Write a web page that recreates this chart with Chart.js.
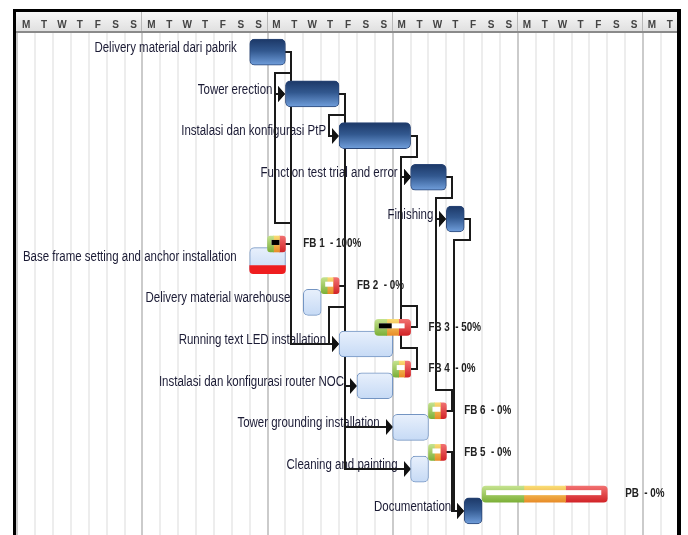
<!DOCTYPE html>
<html lang="en">
<head>
<meta charset="UTF-8">
<title>Gantt</title>
<script src="https://cdn.jsdelivr.net/npm/chart.js"></script>
<style>
  html, body { margin: 0; padding: 0; background: #fff; }
  #wrap { position: relative; width: 688px; height: 535px; }
</style>
</head>
<body>
<div id="wrap"><canvas id="gantt" width="688" height="535"></canvas></div>
<script>
// header letters, one per day, week starts on monday
const weekDays = ['M', 'T', 'W', 'T', 'F', 'S', 'S'];
const dayCount = 37;

// tasks, one per row (start / end in days)
const taskNames = ['Delivery material dari pabrik', 'Tower erection', 'Instalasi dan konfigurasi PtP',
  'Function test trial and error', 'Finishing', 'Base frame setting and anchor installation',
  'Delivery material warehouse', 'Running text LED installation', 'Instalasi dan konfigurasi router NOC',
  'Tower grounding installation', 'Cleaning and painting', 'Documentation'];
const taskStart = [13, 15, 18, 22, 24, 13, 16, 18, 19, 21, 22, 25];
const taskEnd   = [15, 18, 22, 24, 25, 15, 17, 21, 21, 23, 23, 26];
const taskCritical = [true, true, true, true, true, false, false, false, false, false, false, true];
const taskLate     = [false, false, false, false, false, true, false, false, false, false, false, false];

// buffers (feeding buffers + project buffer)
const bufferNames = ['FB 1', 'FB 2', 'FB 3', 'FB 4', 'FB 6', 'FB 5', 'PB'];
const bufferRow   = [5, 6, 7, 8, 9, 10, 11];
const bufferStart = [14, 17, 20, 21, 23, 23, 26];
const bufferEnd   = [15, 18, 22, 22, 24, 24, 33];
const bufferUsed  = [100, 0, 50, 0, 0, 0, 0];

// dependencies
const linkFrom = ['Delivery material dari pabrik', 'Tower erection', 'Instalasi dan konfigurasi PtP',
  'Function test trial and error', 'Finishing', 'Delivery material dari pabrik', 'FB 1', 'FB 2',
  'FB 3', 'FB 4', 'FB 6', 'FB 5', 'Tower erection', 'Tower erection', 'Tower erection'];
const linkTo = ['Tower erection', 'Instalasi dan konfigurasi PtP', 'Function test trial and error',
  'Finishing', 'Documentation', 'Running text LED installation', 'Tower erection',
  'Running text LED installation', 'Function test trial and error', 'Function test trial and error',
  'Finishing', 'Documentation', 'Cleaning and painting', 'Instalasi dan konfigurasi router NOC',
  'Tower grounding installation'];

const BAR_H = 26;
const BUF_H = 16;
const BUF_OFF = 0.4;
const FONT = '"Liberation Sans", Arial, sans-serif';
const SQUEEZE = 0.82;   // the original uses a narrow face

function vGrad(c, h, stops, dy) {
  const chart = c.chart;
  if (!chart.chartArea || !c.raw) return stops[stops.length - 1][1];
  const y = chart.scales.y.getPixelForValue(c.raw.y) + (dy || 0);
  const g = chart.ctx.createLinearGradient(0, y - h / 2, 0, y + h / 2);
  stops.forEach(s => g.addColorStop(s[0], s[1]));
  return g;
}

const darkStops = [[0, '#1c3867'], [0.45, '#32588f'], [1, '#719fdc']];
const lightStops = [[0, '#e8f0fc'], [1, '#c6daf5']];

function itemOf(name) {
  let i = taskNames.indexOf(name);
  if (i >= 0) return { s: taskStart[i], e: taskEnd[i], y: i };
  i = bufferNames.indexOf(name);
  return { s: bufferStart[i], e: bufferEnd[i], y: bufferRow[i] - BUF_OFF };
}

// buffer split in thirds (green / yellow / red)
function bufferPart(k) {
  return bufferNames.map((n, i) => {
    const d = (bufferEnd[i] - bufferStart[i]) / 3;
    return { x: [bufferStart[i] + d * k, bufferStart[i] + d * (k + 1)], y: bufferRow[i] - BUF_OFF };
  });
}

function narrowText(ctx, txt, x, y) {
  ctx.save();
  ctx.translate(x, y);
  ctx.scale(SQUEEZE, 1);
  ctx.fillText(txt, 0, 0);
  ctx.restore();
}

const ganttDecor = {
  id: 'ganttDecor',
  beforeDraw(chart) {
    const { ctx, chartArea: a, scales } = chart;
    const top = scales.x2.top;
    const bottom = a.top;
    ctx.save();
    ctx.fillStyle = '#fff';
    ctx.fillRect(0, 0, chart.width, chart.height);
    const g = ctx.createLinearGradient(0, top, 0, bottom);
    g.addColorStop(0, '#f7f7f7');
    g.addColorStop(1, '#dedede');
    ctx.fillStyle = g;
    ctx.fillRect(a.left, top, a.right - a.left, bottom - top);
    ctx.fillStyle = '#b8b8b8';
    for (let d = 7; d < dayCount; d += 7) {
      const px = Math.round(scales.x.getPixelForValue(d));
      ctx.fillRect(px - 1, top, 1, bottom - top);
    }
    ctx.fillStyle = '#8a8a8a';
    ctx.fillRect(a.left, bottom - 2, a.right - a.left, 2);
    ctx.restore();
  },
  beforeDatasetsDraw(chart) {
    const { ctx, scales } = chart;
    const xs = scales.x, ys = scales.y;
    const rowH = ys.getPixelForValue(1) - ys.getPixelForValue(0);
    ctx.save();
    // task names
    ctx.font = '14px ' + FONT;
    ctx.fillStyle = '#1b1b35';
    ctx.textAlign = 'right';
    ctx.textBaseline = 'middle';
    taskNames.forEach((n, i) => {
      narrowText(ctx, n, xs.getPixelForValue(taskStart[i]) - 13, ys.getPixelForValue(i) - 4);
    });
    // dependency lines
    ctx.strokeStyle = '#1a1a1a';
    ctx.fillStyle = '#111';
    ctx.lineWidth = 2;
    linkFrom.forEach((f, k) => {
      const a = itemOf(f), b = itemOf(linkTo[k]);
      const x1 = Math.round(xs.getPixelForValue(a.e));
      const y1 = Math.round(ys.getPixelForValue(a.y));
      const x2 = Math.round(xs.getPixelForValue(b.s));
      const y2 = Math.round(ys.getPixelForValue(b.y));
      const ex = x1 + 6;
      const pts = [[x1, y1], [ex, y1]];
      if (x2 - 7 >= ex + 3) {
        pts.push([ex, y2], [x2 - 7, y2]);
      } else {
        const mid = Math.round(y1 + (y2 > y1 ? 1 : -1) * rowH / 2);
        pts.push([ex, mid], [x2 - 10, mid], [x2 - 10, y2], [x2 - 7, y2]);
      }
      ctx.beginPath();
      pts.forEach((p, j) => j ? ctx.lineTo(p[0], p[1]) : ctx.moveTo(p[0], p[1]));
      ctx.stroke();
      ctx.beginPath();
      ctx.moveTo(x2 - 7, y2 - 8);
      ctx.lineTo(x2, y2);
      ctx.lineTo(x2 - 7, y2 + 8);
      ctx.closePath();
      ctx.fill();
    });
    ctx.restore();
  },
  afterDatasetsDraw(chart) {
    const { ctx, scales } = chart;
    const xs = scales.x, ys = scales.y;
    ctx.save();
    bufferNames.forEach((n, i) => {
      const l = xs.getPixelForValue(bufferStart[i]);
      const r = xs.getPixelForValue(bufferEnd[i]);
      const y = ys.getPixelForValue(bufferRow[i] - BUF_OFF);
      const sl = l + 4, sr = r - 6;
      ctx.fillStyle = '#fff';
      ctx.fillRect(sl, y - 4, sr - sl, 5);
      ctx.fillStyle = '#000';
      ctx.fillRect(sl, y - 4, (sr - sl) * bufferUsed[i] / 100, 5);
      ctx.font = 'bold 12px ' + FONT;
      ctx.fillStyle = '#222';
      ctx.textAlign = 'left';
      ctx.textBaseline = 'middle';
      narrowText(ctx, n + '  - ' + bufferUsed[i] + '%', xs.getPixelForValue(bufferEnd[i] + 1), y);
    });
    ctx.restore();
  },
  afterDraw(chart) {
    const ctx = chart.ctx;
    ctx.save();
    ctx.fillStyle = '#000';
    ctx.fillRect(13, 9, 3, chart.height - 9);
    ctx.fillRect(13, 9, 668, 3);
    ctx.fillRect(677, 9, 4, chart.height - 9);
    ctx.restore();
  }
};

const greenStops = [[0, '#c4e28e'], [1, '#7cb038']];
const yellowStops = [[0, '#f9dc74'], [1, '#e88c28']];
const redStops = [[0, '#f17070'], [1, '#d22428']];

new Chart(document.getElementById('gantt'), {
  type: 'bar',
  data: {
    datasets: [
      {
        label: 'Tasks',
        order: 3,
        data: taskNames.map((n, i) => ({ x: [taskStart[i], taskEnd[i]], y: i })),
        barThickness: BAR_H,
        borderRadius: 5,
        borderSkipped: false,
        borderWidth: 1,
        borderColor: c => taskCritical[c.dataIndex] ? '#2a4677' : '#7394c2',
        backgroundColor: c => vGrad(c, BAR_H, taskCritical[c.dataIndex] ? darkStops : lightStops)
      },
      {
        label: 'Late',
        order: 2,
        data: taskNames.map((n, i) => ({ x: [taskStart[i], taskEnd[i]], y: i + 0.216 })).filter((d, i) => taskLate[i]),
        barThickness: 8,
        borderRadius: { topLeft: 0, topRight: 0, bottomLeft: 5, bottomRight: 5 },
        borderSkipped: false,
        backgroundColor: '#ef1d1f'
      },
      {
        label: 'Buffer green',
        order: 1,
        data: bufferPart(0),
        barThickness: BUF_H,
        borderRadius: { topLeft: 4, bottomLeft: 4, topRight: 0, bottomRight: 0 },
        borderSkipped: false,
        backgroundColor: c => vGrad(c, BUF_H, greenStops)
      },
      {
        label: 'Buffer yellow',
        order: 1,
        data: bufferPart(1),
        barThickness: BUF_H,
        borderRadius: 0,
        borderSkipped: false,
        backgroundColor: c => vGrad(c, BUF_H, yellowStops)
      },
      {
        label: 'Buffer red',
        order: 1,
        data: bufferPart(2),
        barThickness: BUF_H,
        borderRadius: { topLeft: 0, bottomLeft: 0, topRight: 4, bottomRight: 4 },
        borderSkipped: false,
        backgroundColor: c => vGrad(c, BUF_H, redStops)
      }
    ]
  },
  options: {
    indexAxis: 'y',
    responsive: false,
    animation: false,
    layout: { padding: { top: 12, left: 16, right: 11, bottom: 0 } },
    plugins: { legend: { display: false }, tooltip: { enabled: false } },
    datasets: { bar: { grouped: false } },
    scales: {
      x: {
        type: 'linear',
        position: 'bottom',
        min: -0.07,
        max: 36.9,
        afterBuildTicks: s => { s.ticks = []; for (let k = 0; k < dayCount; k++) s.ticks.push({ value: k }); },
        afterFit: s => { s.height = 0; },
        ticks: { display: false },
        border: { display: false },
        grid: {
          drawTicks: false,
          color: c => (c.tick && c.tick.value % 7 === 0) ? '#cbcbcb' : '#ededed',
          lineWidth: 2
        }
      },
      x2: {
        type: 'linear',
        position: 'top',
        axis: 'x',
        min: -0.07,
        max: 36.9,
        afterBuildTicks: s => { s.ticks = []; for (let k = 0; k < dayCount; k++) s.ticks.push({ value: k + 0.5 }); },
        afterFit: s => { s.height = 21; },
        grid: { display: false, drawTicks: false },
        border: { display: false },
        ticks: {
          autoSkip: false,
          maxRotation: 0,
          padding: 2,
          color: '#444',
          font: { family: FONT, size: 10, weight: 'bold' },
          callback: (v, i) => weekDays[i % 7]
        }
      },
      y: {
        type: 'linear',
        reverse: true,
        offset: false,
        min: -0.46,
        max: 11.58,
        display: false
      }
    }
  },
  plugins: [ganttDecor]
});
</script>
</body>
</html>
